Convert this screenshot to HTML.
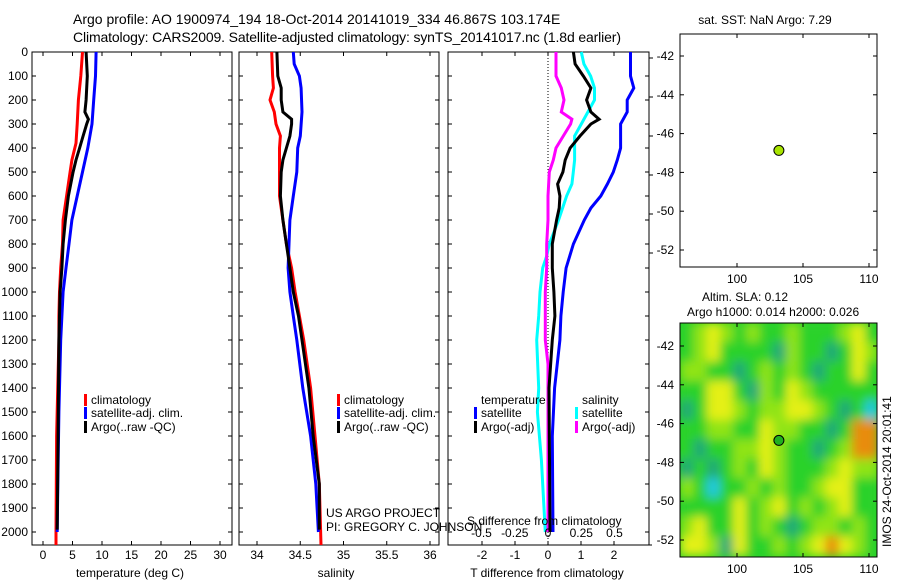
<!DOCTYPE html>
<html><head><meta charset="utf-8"><style>
html,body{margin:0;padding:0;background:#fff;}
svg{display:block;font-family:"Liberation Sans",sans-serif;}
</style></head><body>
<svg id="chart" width="900" height="580" viewBox="0 0 900 580"></svg>
<script>
const depthTicks=[0,100,200,300,400,500,600,700,800,900,1000,1100,1200,1300,1400,1500,1600,1700,1800,1900,2000];
const tempTicks=[0,5,10,15,20,25,30];
const salTicks=[34,34.5,35,35.5,36];
const tdTicks=[-2,-1,0,1,2];
const sdTicks=[-0.5,-0.25,0,0.25,0.5];
const latTicks=[-42,-44,-46,-48,-50,-52];
const lonTicks=[100,105,110];

const tClimDepth=[0,100,200,300,380,450,500,600,700,800,900,1000,1100,1200,1600,2000,2054];
const tClim=[6.7,6.4,6.0,5.8,5.6,4.9,4.6,4.0,3.4,3.3,3.0,2.8,2.7,2.7,2.3,2.2,2.2];
const tArgoDepth=[0,100,200,250,280,300,350,400,450,500,600,700,800,900,1000,1100,1200,1500,1990];
const tArgo=[7.3,7.5,7.3,7.1,7.7,7.4,6.8,6.2,5.6,5.1,4.3,3.8,3.4,3.2,2.9,2.8,2.7,2.6,2.4];
const tSatDepth=[0,100,200,300,400,500,600,700,800,900,1000,1100,1200,1500,1800,2000];
const tSat=[9.0,8.9,8.6,8.3,7.6,6.7,5.8,4.9,4.4,3.9,3.4,3.2,3.0,2.7,2.5,2.4];

const sClimDepth=[0,100,150,200,250,300,350,400,600,700,800,900,1000,1100,1200,1400,1600,1800,2054];
const sClim=[34.17,34.18,34.19,34.15,34.20,34.22,34.27,34.26,34.26,34.30,34.34,34.40,34.44,34.49,34.54,34.62,34.67,34.72,34.74];
const sArgoDepth=[0,100,150,200,250,280,300,350,400,450,500,600,700,800,900,1000,1100,1200,1400,1600,1800,1990];
const sArgo=[34.23,34.24,34.28,34.28,34.30,34.40,34.40,34.38,34.34,34.30,34.28,34.27,34.30,34.34,34.38,34.42,34.48,34.52,34.60,34.65,34.72,34.72];
const sSatDepth=[0,50,100,150,250,350,400,500,600,700,800,900,1000,1100,1200,1400,1600,1800,2000];
const sSat=[34.42,34.43,34.49,34.51,34.52,34.50,34.47,34.46,34.42,34.38,34.37,34.36,34.38,34.42,34.46,34.53,34.62,34.68,34.71];

const tdSatDepth=[0,100,150,200,250,300,350,400,450,500,550,600,650,700,800,900,1000,1100,1200,1400,1600,2000];
const tdSat=[2.5,2.5,2.6,2.4,2.4,2.2,2.2,2.2,2.1,1.98,1.8,1.6,1.3,1.1,0.77,0.55,0.46,0.39,0.36,0.2,0.13,0.15];
const tdArgoDepth=[0,50,100,150,200,250,280,300,350,400,450,500,550,600,650,700,800,900,1000,1100,1200,1400,2000];
const tdArgo=[0.77,0.82,1.07,1.3,1.17,1.3,1.55,1.3,0.97,0.67,0.52,0.45,0.29,0.36,0.34,0.26,0.13,0.13,0.18,0.21,0.13,0.03,0.06];
const sdSatDepth=[0,50,100,150,200,250,300,350,400,450,500,550,600,700,800,850,900,1000,1100,1200,1400,1500,1700,2000];
const sdSat=[0.25,0.27,0.32,0.35,0.35,0.30,0.25,0.20,0.20,0.20,0.19,0.18,0.14,0.08,0.01,-0.01,-0.04,-0.06,-0.07,-0.085,-0.07,-0.08,-0.05,-0.02];
const sdArgoDepth=[0,100,150,200,250,280,300,350,400,450,500,600,700,800,900,1000,1200,1300,2000];
const sdArgo=[0.06,0.06,0.10,0.12,0.10,0.18,0.17,0.115,0.06,0.04,0.01,0,0,-0.01,-0.01,-0.02,-0.02,0,0];

const slaRows=[
[1,2,3,2,1,2,1,1,2,1,1,1,2,3,1],
[1,2,3,1,1,1,1,0,2,1,1,0,1,3,2],
[2,2,1,1,0,1,2,1,2,1,0,1,1,3,1],
[1,1,3,3,1,0,2,1,3,2,1,1,1,1,1],
[0,1,3,3,2,1,2,2,3,3,2,1,0,1,5],
[1,1,2,2,1,1,3,2,2,1,1,0,1,4,4],
[1,0,1,1,2,2,3,2,1,1,0,1,2,4,4],
[0,1,0,1,2,1,3,2,1,1,1,2,3,2,2],
[2,1,5,1,1,2,1,2,1,1,2,3,3,1,1],
[1,1,1,1,3,1,2,3,1,2,1,2,3,1,1],
[2,3,1,1,3,1,2,1,0,1,2,2,1,2,1],
[3,3,2,0,3,1,1,2,1,2,3,4,3,2,1]];
const argoLon=103.174, argoLat=-46.867;

const NS='http://www.w3.org/2000/svg';
const svg=document.getElementById('chart');
function el(tag,attrs,parent){const e=document.createElementNS(NS,tag);for(const k in attrs)e.setAttribute(k,attrs[k]);(parent||svg).appendChild(e);return e;}
function txt(s,x,y,anchor,size,parent){const t=el('text',{x:x,y:y,'text-anchor':anchor||'start','font-size':size||12,fill:'#000'},parent);t.textContent=s;return t;}

const yD=d=>52+0.24*d;
const xT=t=>43+5.9*t;
const xS=s=>257+86.5*(s-34);
const xTd=v=>548+33*v;
const xSd=v=>548+133*v;
const lonX=l=>737+13.2*(l-100);
const latY=(a,top)=>top+19.4*(-42-a);

let t1=txt('Argo profile: AO 1900974_194 18-Oct-2014 20141019_334 46.867S 103.174E',73,24,'start',14);

let t2=txt('Climatology: CARS2009. Satellite-adjusted climatology: synTS_20141017.nc (1.8d earlier)',73,42,'start',14);
t2.setAttribute('textLength','548');


function panel(name,x0,x1,xTicksVals,xf,xlabels,title,titleX){
  const g=el('g',{});
  
  
  el('rect',{x:x0,y:52,width:x1-x0,height:493,fill:'none',stroke:'#000','stroke-width':1},g);
  depthTicks.forEach(d=>{
    const y=yD(d);
    el('line',{x1:x0,y1:y,x2:x0+4,y2:y,stroke:'#000'},g);
    el('line',{x1:x1,y1:y,x2:x1-4,y2:y,stroke:'#000'},g);
  });
  xTicksVals.forEach((v,i)=>{
    const x=xf(v);
    el('line',{x1:x,y1:545,x2:x,y2:541,stroke:'#000'},g);
    el('line',{x1:x,y1:52,x2:x,y2:56,stroke:'#000'},g);
    if(xlabels){const l=txt(xlabels[i],x,559,'middle',12,g);}
  });
  const tt=txt(title,titleX,577,'middle',12,g);
  
  return g;
}
const g1=panel('temperature-panel',32,232,tempTicks,xT,tempTicks.map(String),'temperature (deg C)',130);
depthTicks.forEach(d=>{const l=txt(String(d),28,yD(d)+4,'end',12,g1);});
const g2=panel('salinity-panel',239,439,salTicks,xS,salTicks.map(String),'salinity',336);
const g3=panel('difference-panel',448,649,tdTicks,xTd,tdTicks.map(String),'T difference from climatology',547);
el('line',{x1:xTd(0),y1:52,x2:xTd(0),y2:545,stroke:'#000','stroke-dasharray':'1,2'},g3);

function series(g,depths,vals,xf,color,name){
  const pts=depths.map((d,i)=>xf(vals[i]).toFixed(1)+','+yD(d).toFixed(1)).join(' ');
  const p=el('polyline',{points:pts,fill:'none',stroke:color,'stroke-width':3,'stroke-linejoin':'miter'},g);
  
  
}
series(g1,tClimDepth,tClim,xT,'#ff0000','temp-climatology-line');
series(g1,tSatDepth,tSat,xT,'#0000ff','temp-satellite-line');
series(g1,tArgoDepth,tArgo,xT,'#000000','temp-argo-line');
series(g2,sClimDepth,sClim,xS,'#ff0000','sal-climatology-line');
series(g2,sSatDepth,sSat,xS,'#0000ff','sal-satellite-line');
series(g2,sArgoDepth,sArgo,xS,'#000000','sal-argo-line');
series(g3,sdSatDepth,sdSat,xSd,'#00ffff','sdiff-satellite-line');
series(g3,sdArgoDepth,sdArgo,xSd,'#ff00ff','sdiff-argo-line');
series(g3,tdSatDepth,tdSat,xTd,'#0000ff','tdiff-satellite-line');
series(g3,tdArgoDepth,tdArgo,xTd,'#000000','tdiff-argo-line');

sdTicks.forEach(v=>{const l=txt(String(v),xSd(v),537,'middle',12,g3);});
let sdt=txt('S difference from climatology',467,525,'start',12,g3);


function legendEntry(g,x,y,color,label){
  const e=el('g',{},g);
  
  
  el('rect',{x:x,y:y-6,width:3,height:12,fill:color},e);
  txt(label,x+7,y+4,'start',12,e);
}
legendEntry(g1,84,400,'#ff0000','climatology');
legendEntry(g1,84,413,'#0000ff','satellite-adj. clim.');
legendEntry(g1,84,427,'#000000','Argo(..raw -QC)');
legendEntry(g2,337,400,'#ff0000','climatology');
legendEntry(g2,337,413,'#0000ff','satellite-adj. clim.');
legendEntry(g2,337,427,'#000000','Argo(..raw -QC)');
txt('temperature',481,404,'start',12,g3);
txt('salinity',582,404,'start',12,g3);
legendEntry(g3,474,413,'#0000ff','satellite');
legendEntry(g3,474,427,'#000000','Argo(-adj)');
legendEntry(g3,575,413,'#00ffff','satellite');
legendEntry(g3,575,427,'#ff00ff','Argo(-adj)');

let pr=txt('US ARGO PROJECT',326,517,'start',12);

let pi=txt('PI: GREGORY C. JOHNSON',326,531,'start',12);


el('polyline',{points:'649,544 649,545 652,545',fill:'none',stroke:'#000'});
[58,97,136,175,214,253].forEach(y=>el('line',{x1:649,y1:y,x2:653,y2:y,stroke:'#000'}));

function mapFrame(name){
  const g=el('g',{});
  
  
  return g;
}
function mapAxes(g,top,bottom,latTop){
  el('rect',{x:680,y:top,width:197,height:bottom-top,fill:'none',stroke:'#000'},g);
  latTicks.forEach(a=>{
    const y=latY(a,latTop);
    el('line',{x1:680,y1:y,x2:684,y2:y,stroke:'#000'},g);
    el('line',{x1:877,y1:y,x2:873,y2:y,stroke:'#000'},g);
    const l=txt(String(a),674,y+4,'end',12,g);
  });
  lonTicks.forEach(o=>{
    const x=lonX(o);
    el('line',{x1:x,y1:bottom,x2:x,y2:bottom-4,stroke:'#000'},g);
    el('line',{x1:x,y1:top,x2:x,y2:top+4,stroke:'#000'},g);
    const l=txt(String(o),x,bottom+16,'middle',12,g);
  });
}
const m1=mapFrame('sst-map');
let mt=txt('sat. SST: NaN Argo: 7.29',765,24,'middle',12,m1);

mapAxes(m1,34,267,56);
let d1=el('circle',{cx:lonX(argoLon),cy:latY(argoLat,56),r:5,fill:'#a8e400',stroke:'#000','stroke-width':1},m1);


const m2=mapFrame('sla-map');
let at1=txt('Altim. SLA: 0.12',745,301,'middle',12,m2);

let at2=txt('Argo h1000: 0.014 h2000: 0.026',687,316,'start',12,m2);

const defs=el('defs',{});
const cp=el('clipPath',{id:'mapclip'},defs);
el('rect',{x:680,y:323,width:197,height:234},cp);
const f=el('filter',{id:'blur',filterUnits:'userSpaceOnUse',x:660,y:300,width:240,height:280},defs);
el('feGaussianBlur',{stdDeviation:5},f);
const slaColors=['#20a878','#2ad22a','#90e414','#e4f018','#e88c10','#20c8e0'];
const hg=el('g',{'clip-path':'url(#mapclip)'},m2);
el('rect',{x:680,y:323,width:197,height:234,fill:'#2ad22a'},hg);
const hb=el('g',{filter:'url(#blur)'},hg);
slaRows.forEach((row,j)=>row.forEach((v,i)=>{
  const lon0=95.7+i, lat0=-40.8-j;
  const x=lonX(lon0), y=latY(lat0,346);
  const c=el('rect',{x:x.toFixed(1),y:y.toFixed(1),width:13.6,height:19.8,fill:slaColors[v]},hb);
  
  
}));
mapAxes(m2,323,557,346);
let d2=el('circle',{cx:lonX(argoLon),cy:latY(argoLat,346),r:5,fill:'#20b020',stroke:'#000','stroke-width':1},m2);

let im=txt('IMOS 24-Oct-2014 20:01:41',0,0,'start',12);
im.setAttribute('transform','translate(891,547) rotate(-90)');

</script>
</body></html>
